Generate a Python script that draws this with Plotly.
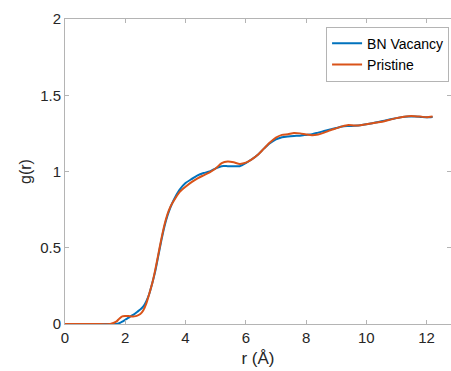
import plotly.graph_objects as go

# Radial distance (Å)
r = [0, 0.5, 1.0, 1.5, 1.7, 1.8, 1.9, 2.0, 2.1, 2.2, 2.3, 2.4, 2.5, 2.6, 2.7,
     2.8, 2.9, 3.0, 3.1, 3.2, 3.3, 3.4, 3.5, 3.6, 3.8, 4.0, 4.2, 4.4, 4.6, 4.8,
     5.0, 5.2, 5.4, 5.6, 5.8, 6.0, 6.2, 6.4, 6.6, 6.8, 7.0, 7.2, 7.4, 7.6, 7.8,
     8.0, 8.2, 8.4, 8.6, 8.8, 9.0, 9.2, 9.4, 9.6, 9.8, 10.0, 10.2, 10.4, 10.6,
     10.8, 11.0, 11.2, 11.4, 11.6, 11.8, 12.0, 12.2]

# Radial distribution function, BN vacancy system
g_vacancy = [0, 0, 0, 0, 0, 0.005, 0.015, 0.028, 0.04, 0.053, 0.065, 0.08,
             0.095, 0.115, 0.15, 0.2, 0.27, 0.35, 0.45, 0.55, 0.64, 0.71,
             0.765, 0.81, 0.88, 0.925, 0.95, 0.975, 0.99, 1.0, 1.02, 1.035,
             1.035, 1.035, 1.035, 1.055, 1.08, 1.11, 1.15, 1.185, 1.21, 1.225,
             1.23, 1.233, 1.235, 1.24, 1.245, 1.255, 1.265, 1.275, 1.285,
             1.295, 1.298, 1.300, 1.303, 1.31, 1.317, 1.325, 1.333, 1.342,
             1.35, 1.357, 1.36, 1.36, 1.358, 1.356, 1.358]

# Radial distribution function, pristine system
g_pristine = [0, 0, 0, 0, 0.015, 0.035, 0.05, 0.052, 0.052, 0.05, 0.05, 0.055,
              0.065, 0.09, 0.135, 0.2, 0.27, 0.36, 0.46, 0.56, 0.65, 0.72,
              0.77, 0.805, 0.865, 0.9, 0.93, 0.955, 0.975, 0.995, 1.02, 1.055,
              1.065, 1.06, 1.05, 1.058, 1.08, 1.11, 1.15, 1.19, 1.222, 1.24,
              1.245, 1.253, 1.25, 1.243, 1.238, 1.243, 1.255, 1.27, 1.283,
              1.296, 1.305, 1.302, 1.303, 1.31, 1.317, 1.323, 1.33, 1.34,
              1.35, 1.358, 1.363, 1.363, 1.36, 1.355, 1.36]

x_ticks = [0, 2, 4, 6, 8, 10, 12]
y_ticks = [0, 0.5, 1, 1.5, 2]
y_labels = ["0", "0.5", "1", "1.5", "2"]

font = "Liberation Sans, Arial, sans-serif"
axis_col = "#b4b4b4"
text_col = "#262626"

fig = go.Figure()
fig.add_trace(go.Scatter(x=r, y=g_vacancy, mode="lines", name="BN Vacancy",
                         line=dict(color="#0072BD", width=2, shape="spline",
                                   smoothing=0.6)))
fig.add_trace(go.Scatter(x=r, y=g_pristine, mode="lines", name="Pristine",
                         line=dict(color="#D95319", width=2, shape="spline",
                                   smoothing=0.6)))

axis_common = dict(showgrid=False, zeroline=False, showline=True,
                   linecolor=axis_col, linewidth=1, ticks="inside",
                   ticklen=4, tickcolor=axis_col, mirror="allticks",
                   tickfont=dict(family=font, size=15, color=text_col))

fig.update_layout(
    width=451, height=371,
    margin=dict(l=65, r=0, t=19, b=47),
    paper_bgcolor="white", plot_bgcolor="white",
    font=dict(family=font, size=15, color=text_col),
    xaxis=dict(range=[0, 12.81], tickvals=x_ticks,
               title=dict(text="r (Å)", standoff=7,
                          font=dict(family=font, size=17, color=text_col)),
               **axis_common),
    yaxis=dict(range=[0, 2], tickvals=y_ticks, ticktext=y_labels,
               title=dict(text="g(r)", standoff=4,
                          font=dict(family=font, size=16, color=text_col)),
               **axis_common),
    legend=dict(x=0.995, y=0.975, xanchor="right", yanchor="top",
                bgcolor="white", bordercolor=axis_col, borderwidth=1,
                font=dict(family=font, size=14, color="#000000"),
                tracegroupgap=0, itemwidth=30),
    showlegend=True,
)

fig.write_html("out.html")
